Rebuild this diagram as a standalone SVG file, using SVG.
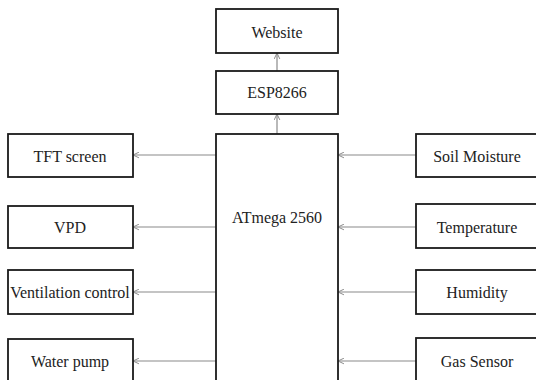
<svg xmlns="http://www.w3.org/2000/svg" width="536" height="380" viewBox="0 0 536 380">
<style>
.box{fill:#fff;stroke:#1a1a1a;stroke-width:1.8}
.lbl{font-family:"Liberation Serif","Times New Roman",serif;font-size:16px;fill:#222;text-anchor:middle;dominant-baseline:central}
.con{stroke:#8a8a8a;stroke-width:1.2;fill:none;marker-end:url(#ah)}
</style>
<defs>
<marker id="ah" viewBox="0 0 10 10" refX="9.5" refY="5" markerWidth="7" markerHeight="7" markerUnits="userSpaceOnUse" orient="auto">
<path d="M1,1 L9.5,5 L1,9" fill="none" stroke="#8a8a8a" stroke-width="1.4"/>
</marker>
</defs>
<rect width="536" height="380" fill="#fff"/>
<g id="connectors">
<line class="con" x1="277" y1="134" x2="277" y2="114"/>
<line class="con" x1="277" y1="71" x2="277" y2="53"/>
<line class="con" x1="216" y1="155" x2="133" y2="155"/>
<line class="con" x1="216" y1="227" x2="133" y2="227"/>
<line class="con" x1="216" y1="292" x2="133" y2="292"/>
<line class="con" x1="216" y1="361" x2="133" y2="361"/>
<line class="con" x1="416" y1="155" x2="338" y2="155"/>
<line class="con" x1="416" y1="227" x2="338" y2="227"/>
<line class="con" x1="416" y1="292" x2="338" y2="292"/>
<line class="con" x1="416" y1="361" x2="338" y2="361"/>
</g>
<g id="website"><rect class="box" x="216" y="9" width="122" height="44"/><text class="lbl" x="277" y="32">Website</text></g>
<g id="esp8266"><rect class="box" x="216" y="71" width="122" height="43"/><text class="lbl" x="277" y="92">ESP8266</text></g>
<g id="atmega"><rect class="box" x="216" y="134" width="122" height="260"/><text class="lbl" x="277" y="217">ATmega 2560</text></g>
<g id="tft"><rect class="box" x="8" y="134" width="125" height="43"/><text class="lbl" x="70" y="156">TFT screen</text></g>
<g id="vpd"><rect class="box" x="8" y="206" width="125" height="42"/><text class="lbl" x="70" y="227">VPD</text></g>
<g id="ventilation"><rect class="box" x="8" y="270" width="125" height="44"/><text class="lbl" x="70" y="292">Ventilation control</text></g>
<g id="waterpump"><rect class="box" x="8" y="339" width="125" height="60"/><text class="lbl" x="70" y="361">Water pump</text></g>
<g id="soil"><rect class="box" x="416" y="134" width="124" height="43"/><text class="lbl" x="477" y="156">Soil Moisture</text></g>
<g id="temperature"><rect class="box" x="416" y="204" width="124" height="44"/><text class="lbl" x="477" y="227">Temperature</text></g>
<g id="humidity"><rect class="box" x="416" y="270" width="124" height="44"/><text class="lbl" x="477" y="292">Humidity</text></g>
<g id="gas"><rect class="box" x="416" y="338" width="124" height="60"/><text class="lbl" x="477" y="361">Gas Sensor</text></g>
</svg>
